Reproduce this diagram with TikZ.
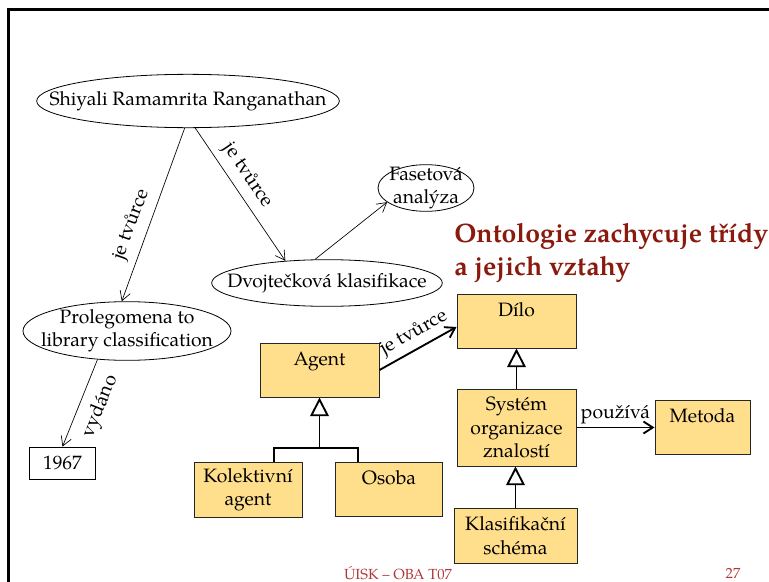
\documentclass[tikz,border=0pt]{standalone}
\usepackage{fontspec}
\setmainfont{TeX Gyre Pagella}
\usetikzlibrary{shapes.geometric,arrows.meta,calc}
\definecolor{boxfill}{RGB}{255,222,140}
\definecolor{titlered}{RGB}{139,26,14}
\definecolor{footred}{RGB}{178,56,56}
\begin{document}
\begin{tikzpicture}[x=0.75pt,y=-0.75pt,
  every node/.style={font=\fontsize{14.5}{17.5}\selectfont},
  ell/.style={draw, ellipse, inner sep=-40pt, line width=0.6pt, align=center},
  box/.style={draw=black!85, fill=boxfill, line width=0.75pt, inner sep=0pt},
  topbox/.style={box, text height=16.5pt, text depth=24pt},
  mbox/.style={box, align=center},
  thin/.style={-{Straight Barb[length=7pt,width=8pt]}, line width=0.5pt},
  assoc/.style={-{Straight Barb[length=7pt,width=9pt]}, line width=1.4pt},
  gen/.style={-{Triangle[length=14pt,width=14pt,fill=white]}, line width=1.4pt},
  lbl/.style={sloped, inner sep=2pt}
]
\useasboundingbox (0,0) rectangle (769,582);
% frame
\draw[line width=2.25pt, line join=miter] (8,582) -- (8,9) -- (769,9);

% ellipses
\node[ell, minimum width=227pt, minimum height=40pt] (shiyali) at (188,101) {Shiyali Ramamrita Ranganathan};
\node[ell, minimum width=173pt, minimum height=35pt] (dvoj) at (327,283) {Dvojtečková klasifikace};
\node[ell, minimum width=72pt, minimum height=35pt] (fas) at (426,188) {Fasetová\\analýza};
\node[ell, minimum width=156pt, minimum height=44pt] (prol) at (127,331) {Prolegomena to\\library classification};
\node[draw, line width=0.6pt, inner sep=0pt, minimum width=50pt, minimum height=24pt] (y1967) at (62.5,463) {1967};

% left graph connectors
\draw[thin] (shiyali.263) -- node[lbl, above=3pt, pos=0.59] (l1) {je tvůrce} (prol.100);
\draw[thin] (shiyali.285) -- node[lbl, above=3pt, pos=0.43] (l2) {je tvůrce} (dvoj.152);
\draw[thin] (dvoj.117) -- (fas.200);
\draw[thin] (prol.224) -- node[lbl, below=6pt, pos=0.45] (l3) {vydáno} (y1967.north);

% title
\node[anchor=west, align=left, inner sep=0pt, text=titlered,
      font=\fontsize{20}{24.75}\selectfont\bfseries] (title) at (454,253)
      {Ontologie zachycuje třídy\\a jejich vztahy};

% UML boxes
\node[topbox, minimum width=89.25pt] (agent) at (319.5,370) {Agent};
\node[topbox, minimum width=89.25pt] (dilo) at (516.5,321) {Dílo};
\node[mbox, minimum width=89.25pt, minimum height=57.75pt] (sys) at (516.5,427.5) {Systém\\organizace\\znalostí};
\node[topbox, minimum width=71.25pt] (met) at (702.5,427.5) {Metoda};
\node[mbox, minimum width=92.25pt, minimum height=41.25pt] (klas) at (515.5,535.5) {Klasifikační\\schéma};
\node[mbox, minimum width=81pt, minimum height=41.25pt] (kol) at (248,489.5) {Kolektivní\\agent};
\node[topbox, minimum width=80.25pt] (osoba) at (389,489.5) {Osoba};

% UML connectors
\draw[assoc] (agent.east) -- node[lbl, above=1.5pt, pos=0.55] (l4) {je tvůrce} ($(dilo.west)+(0,6)$);
\draw[assoc] (sys.east) -- node[above, inner sep=2pt] (l5) {používá} (met.west);
\draw[gen] (sys.north) -- (dilo.south);
\draw[gen] (klas.north) -- (klas.north |- sys.south);
\coordinate (j) at (319.5,448);
\draw[line width=1.4pt] ($(kol.north)+(26,0)$) |- (j) -| ($(osoba.north)+(-31,0)$);
\draw[gen] (j) -- (agent.south);

% footer
\node[text=footred, font=\fontsize{11}{13}\selectfont] (foot) at (398,573) {ÚISK – OBA T07};
\node[text=footred, font=\fontsize{11}{13}\selectfont] (page) at (733,573) {27};
\end{tikzpicture}
\end{document}
